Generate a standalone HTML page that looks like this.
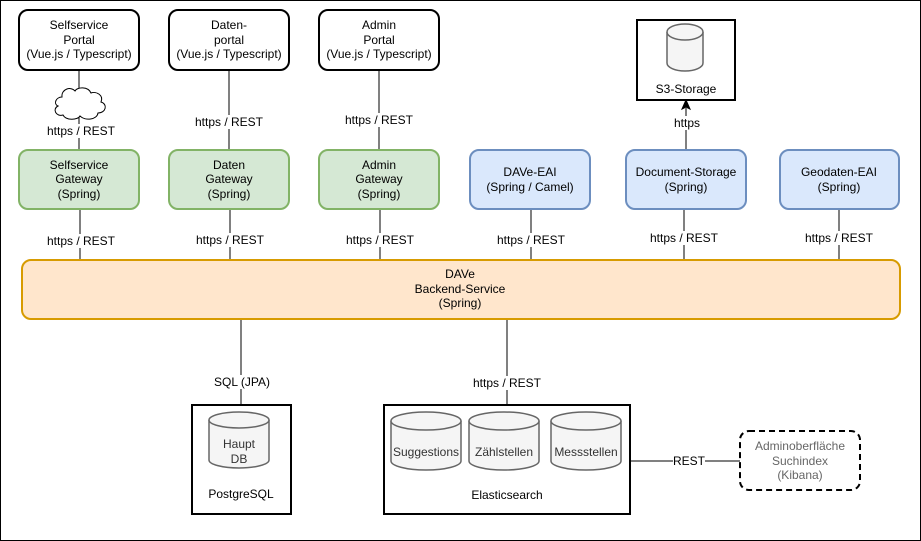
<!DOCTYPE html>
<html><head><meta charset="utf-8"><style>
html,body{margin:0;padding:0;background:#fff;}
svg{display:block;}
text{font-family:"Liberation Sans",Arial,sans-serif;font-size:12px;text-anchor:middle;}
</style></head><body>
<svg width="921" height="541" viewBox="0 0 921 541" xmlns="http://www.w3.org/2000/svg">
<rect x="0.5" y="0.5" width="920" height="540" fill="#fff" stroke="#000" stroke-width="1"/>
<g stroke="#000" stroke-width="1" fill="none">
<line x1="79" y1="70" x2="79" y2="88"/><line x1="79" y1="117" x2="79" y2="150"/>
<line x1="229" y1="70" x2="229" y2="150"/>
<line x1="379" y1="70" x2="379" y2="150"/>
<line x1="80" y1="209" x2="80" y2="260"/>
<line x1="230" y1="209" x2="230" y2="260"/>
<line x1="380" y1="209" x2="380" y2="260"/>
<line x1="531" y1="209" x2="531" y2="260"/>
<line x1="684" y1="209" x2="684" y2="260"/>
<line x1="839" y1="209" x2="839" y2="260"/>
<line x1="686" y1="150" x2="686" y2="108"/>
<line x1="241" y1="319" x2="241" y2="404"/>
<line x1="507" y1="319" x2="507" y2="404"/>
<line x1="630" y1="461" x2="740" y2="461"/>
</g>
<path d="M686 100 L682 109 L686 107 L690 109 Z" fill="#000" stroke="#000"/>
<path d="M62 97 C56 97 53 104 58 106 C52 109 56 117 63 115 C66 121 78 120 80 116 C85 121 97 120 98 113 C106 113 108 104 101 102 C104 95 96 91 91 93 C88 86 77 87 75 91 C71 86 61 89 62 97 Z" fill="#fff" stroke="#000" stroke-width="1"/>
<g fill="#000">
<rect x="48" y="124" width="66" height="14" fill="#fff"/><text x="81" y="135">https / REST</text>
<rect x="196" y="115" width="66" height="14" fill="#fff"/><text x="229" y="126">https / REST</text>
<rect x="346" y="113" width="66" height="14" fill="#fff"/><text x="379" y="124">https / REST</text>
<rect x="48" y="234" width="66" height="14" fill="#fff"/><text x="81" y="245">https / REST</text>
<rect x="197" y="233" width="66" height="14" fill="#fff"/><text x="230" y="244">https / REST</text>
<rect x="347" y="233" width="66" height="14" fill="#fff"/><text x="380" y="244">https / REST</text>
<rect x="498" y="233" width="66" height="14" fill="#fff"/><text x="531" y="244">https / REST</text>
<rect x="651" y="231" width="66" height="14" fill="#fff"/><text x="684" y="242">https / REST</text>
<rect x="806" y="231" width="66" height="14" fill="#fff"/><text x="839" y="242">https / REST</text>
<rect x="670" y="116" width="34" height="14" fill="#fff"/><text x="687" y="127">https</text>
<rect x="214" y="375" width="56" height="14" fill="#fff"/><text x="242" y="386">SQL (JPA)</text>
<rect x="474" y="376" width="66" height="14" fill="#fff"/><text x="507" y="387">https / REST</text>
<rect x="673" y="454" width="32" height="14" fill="#fff"/><text x="689" y="465">REST</text>
</g>
<g fill="#fff" stroke="#000" stroke-width="2">
<rect x="19" y="10" width="120" height="60" rx="9"/>
<rect x="169" y="10" width="120" height="60" rx="9"/>
<rect x="319" y="10" width="120" height="60" rx="9"/>
</g>
<text x="79" y="29">Selfservice</text><text x="79" y="44">Portal</text><text x="79" y="58">(Vue.js / Typescript)</text>
<text x="229" y="29">Daten-</text><text x="229" y="44">portal</text><text x="229" y="58">(Vue.js / Typescript)</text>
<text x="379" y="29">Admin</text><text x="379" y="44">Portal</text><text x="379" y="58">(Vue.js / Typescript)</text>
<g fill="#d5e8d4" stroke="#82b366" stroke-width="2">
<rect x="19" y="150" width="120" height="59" rx="9"/>
<rect x="169" y="150" width="120" height="59" rx="9"/>
<rect x="319" y="150" width="120" height="59" rx="9"/>
</g>
<text x="79" y="169">Selfservice</text><text x="79" y="183">Gateway</text><text x="79" y="198">(Spring)</text>
<text x="229" y="169">Daten</text><text x="229" y="183">Gateway</text><text x="229" y="198">(Spring)</text>
<text x="379" y="169">Admin</text><text x="379" y="183">Gateway</text><text x="379" y="198">(Spring)</text>
<g fill="#dae8fc" stroke="#6c8ebf" stroke-width="2">
<rect x="470" y="150" width="120" height="59" rx="9"/>
<rect x="626" y="150" width="120" height="59" rx="9"/>
<rect x="780" y="150" width="119" height="59" rx="9"/>
</g>
<text x="530" y="176">DAVe-EAI</text><text x="530" y="191">(Spring / Camel)</text>
<text x="686" y="176">Document-Storage</text><text x="686" y="191">(Spring)</text>
<text x="839" y="176">Geodaten-EAI</text><text x="839" y="191">(Spring)</text>
<rect x="637" y="20" width="98" height="80" fill="#fff" stroke="#000" stroke-width="2"/>
<g fill="#f5f5f5" stroke="#666" stroke-width="1.5">
<path d="M667 32 v31 a18 8 0 0 0 36 0 v-31"/>
<ellipse cx="685" cy="32" rx="18" ry="8"/>
</g>
<text x="686" y="93">S3-Storage</text>
<rect x="22" y="260" width="878" height="59" rx="9" fill="#ffe6cc" stroke="#d79b00" stroke-width="2"/>
<text x="460" y="278">DAVe</text><text x="460" y="293">Backend-Service</text><text x="460" y="307">(Spring)</text>
<rect x="192" y="405" width="99" height="109" fill="#fff" stroke="#000" stroke-width="2"/>
<g fill="#f5f5f5" stroke="#666" stroke-width="1.5">
<path d="M209 420 v40 a30 8 0 0 0 60 0 v-40"/>
<ellipse cx="239" cy="420" rx="30" ry="8"/>
</g>
<text x="239" y="448" fill="#333">Haupt</text><text x="239" y="463" fill="#333">DB</text>
<text x="241" y="498">PostgreSQL</text>
<rect x="384" y="405" width="246" height="109" fill="#fff" stroke="#000" stroke-width="2"/>
<g fill="#f5f5f5" stroke="#666" stroke-width="1.5">
<path d="M391 421 v40 a35 9 0 0 0 70 0 v-40"/><ellipse cx="426" cy="421" rx="35" ry="9"/>
<path d="M469 421 v40 a35 9 0 0 0 70 0 v-40"/><ellipse cx="504" cy="421" rx="35" ry="9"/>
<path d="M551 421 v40 a35 9 0 0 0 70 0 v-40"/><ellipse cx="586" cy="421" rx="35" ry="9"/>
</g>
<text x="426" y="456" fill="#333">Suggestions</text>
<text x="504" y="456" fill="#333">Zählstellen</text>
<text x="586" y="456" fill="#333">Messstellen</text>
<text x="507" y="499">Elasticsearch</text>
<rect x="740" y="431" width="120" height="59" rx="9" fill="#fff" stroke="#000" stroke-width="2" stroke-dasharray="6 4"/>
<g fill="#666"><text x="800" y="450">Adminoberfläche</text><text x="800" y="465">Suchindex</text><text x="800" y="479">(Kibana)</text></g>
</svg>
</body></html>
